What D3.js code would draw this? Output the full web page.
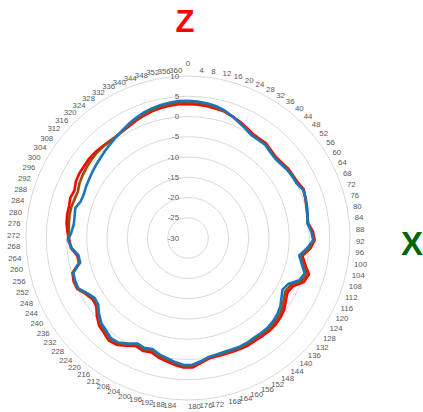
<!DOCTYPE html>
<html>
<head>
<meta charset="utf-8">
<script src="https://cdn.jsdelivr.net/npm/d3@7"></script>
<style>
  body { margin: 0; background: #fff; }
  svg { display: block; }
  text { font-family: "Liberation Sans", Arial, sans-serif; }
</style>
</head>
<body>
<svg id="chart"></svg>
<script>
// categories (degrees)
var angles = [0, 4, 8, 12, 16, 20, 24, 28, 32, 36, 40, 44, 48, 52, 56, 60, 64, 68, 72, 76, 80, 84, 88,
  92, 96, 100, 104, 108, 112, 116, 120, 124, 128, 132, 136, 140, 144, 148, 152, 156, 160, 164, 168, 172,
  176, 180, 184, 188, 192, 196, 200, 204, 208, 212, 216, 220, 224, 228, 232, 236, 240, 244, 248, 252,
  256, 260, 264, 268, 272, 276, 280, 284, 288, 292, 296, 300, 304, 308, 312, 316, 320, 324, 328, 332,
  336, 340, 344, 348, 352, 356, 360];

// radial ticks
var rTicks = [-30, -25, -20, -15, -10, -5, 0, 5, 10];

// series values
var redValues = [3.1, 3.0, 2.9, 2.7, 2.5, 2.0, 1.5, 0.9, 0.3, 0.2, 0.3, -0.2, -0.5, -0.3, 0.1, 0.2, 0.4, 1.0, 0.6, 0.3, 0.0, -0.1, 0.9,
  1.3, 0.3, -1.4, -0.3, 1.2, 0.6, -1.5, -2.0, -1.3, -0.4, 0.1, 0.4, 0.5, 0.4, 0.3, 0.4, 0.3, 0.2, 0.1, 0.1, 0.2,
  1.0, 2.0, 2.0, 1.5, 0.9, 0.4, -0.4, 0.0, -0.4, 0.6, 1.7, 2.0, 1.3, 0.8, -0.4, -1.8, -2.0, -1.2, 0.1, 0.2,
  -0.2, -2.4, -2.3, -1.0, -0.7, -0.2, 0.2, 0.4, 0.4, 0.7, 0.4, 1.0, 1.2, 1.2, 1.3, 1.2, 1.0, 0.8, 0.7, 0.9,
  1.2, 1.7, 2.1, 2.5, 2.8, 3.0, 3.1];

var brownValues = [3.5, 3.4, 3.2, 3.0, 2.6, 2.0, 1.4, 0.7, 0.1, 0.0, 0.1, -0.4, -0.7, -0.5, -0.1, 0.1, 0.2, 0.9, 0.6, 0.3, 0.0, -0.2, 0.7,
  1.1, -0.1, -1.8, -0.8, 0.7, 0.0, -2.1, -2.6, -1.9, -1.0, -0.4, -0.1, 0.1, 0.0, -0.1, 0.0, 0.0, -0.1, -0.2, -0.2, 0.0,
  0.8, 1.6, 1.7, 1.1, 0.5, 0.0, -0.8, -0.4, -0.8, 0.3, 1.3, 1.6, 0.9, 0.4, -0.8, -2.1, -2.3, -1.4, -0.1, 0.0,
  -0.3, -2.5, -2.4, -1.1, -0.4, -0.5, -0.4, -0.2, -0.2, -0.4, -0.5, 0.0, 0.3, 0.5, 0.7, 0.8, 0.8, 0.7, 0.7, 1.0,
  1.4, 1.9, 2.4, 2.8, 3.1, 3.3, 3.5];

var blueValues = [3.9, 3.8, 3.6, 3.3, 2.8, 2.0, 1.2, 0.5, -0.2, -0.2, -0.1, -0.6, -0.9, -0.7, -0.3, -0.1, 0.0, 0.8, 0.7, 0.4, 0.1, -0.3, 0.5,
  0.9, -0.5, -2.2, -1.2, 0.1, -0.6, -2.8, -3.4, -2.6, -1.6, -1.0, -0.6, -0.4, -0.4, -0.5, -0.3, -0.3, -0.4, -0.5, -0.4, -0.2,
  0.6, 1.3, 1.4, 0.8, 0.1, -0.4, -1.2, -0.8, -1.1, 0.0, 1.0, 1.2, 0.5, 0.0, -1.1, -2.4, -2.6, -1.6, -0.2, -0.2,
  -0.4, -2.7, -2.6, -1.2, -0.4, -1.2, -1.6, -1.5, -1.2, -2.0, -2.1, -1.8, -1.6, -1.3, -1.0, -0.7, -0.3, 0.1, 0.6, 1.1,
  1.7, 2.3, 2.8, 3.2, 3.5, 3.7, 3.9];

var seriesColors = ['#ff0000', '#9c4a0c', '#1b75bb'];

var width = 423;
var height = 412;
var cx = 188;
var cy = 238;
var outerRadius = 162;

var svg = d3.select('#chart')
  .attr('width', width)
  .attr('height', height);

var rScale = d3.scaleLinear()
  .domain([-30, 10])
  .range([0, outerRadius]);

// category index -> angle (radians, clockwise from top)
var aScale = d3.scaleLinear()
  .domain([0, angles.length])
  .range([0, 2 * Math.PI]);

var g = svg.append('g')
  .attr('transform', 'translate(' + cx + ',' + cy + ')');

// gridlines
g.selectAll('circle.grid')
  .data(rTicks.slice(1))
  .enter().append('circle')
    .attr('class', 'grid')
    .attr('r', function(d) { return rScale(d); })
    .attr('fill', 'none')
    .attr('stroke', '#d9d9d9')
    .attr('stroke-width', 1);

// value axis labels
g.selectAll('text.rlabel')
  .data(rTicks)
  .enter().append('text')
    .attr('class', 'rlabel')
    .attr('x', -9)
    .attr('y', function(d) { return -rScale(d); })
    .attr('dy', '0.35em')
    .attr('text-anchor', 'end')
    .attr('font-size', '7.8px')
    .attr('fill', '#595959')
    .text(function(d) { return d; });

// category labels
var labelR = outerRadius + 6;
g.selectAll('text.alabel')
  .data(angles)
  .enter().append('text')
    .attr('class', 'alabel')
    .attr('font-size', '7.8px')
    .attr('fill', '#595959')
    .attr('dy', '0.35em')
    .each(function(d, i) {
      var a = aScale(i);
      var deg = a * 180 / Math.PI;
      var la = deg > 170 ? a + Math.PI / 90 : a;
      var x = labelR * Math.sin(la);
      var y = -labelR * Math.cos(la);
      var anchor = deg < 170 ? 'start' : (deg < 179 ? 'start' : 'end');
      if (i == 0) {
        anchor = 'middle';
        y = y - 7;
      }
      d3.select(this)
        .attr('x', x)
        .attr('y', y)
        .attr('text-anchor', anchor)
        .text(d);
    });

// series lines
var line = d3.lineRadial()
  .angle(function(d, i) { return aScale(i); })
  .radius(function(d) { return rScale(d); })
  .curve(d3.curveLinearClosed);

var allSeries = [redValues, brownValues, blueValues];

g.selectAll('path.series')
  .data(allSeries)
  .enter().append('path')
    .attr('class', 'series')
    .attr('d', function(d) { return line(d); })
    .attr('fill', 'none')
    .attr('stroke', function(d, i) { return seriesColors[i]; })
    .attr('stroke-width', 2.6)
    .attr('stroke-linejoin', 'round');

// axis titles
svg.append('text')
  .attr('x', 185)
  .attr('y', 32)
  .attr('text-anchor', 'middle')
  .attr('font-size', '31px')
  .attr('font-weight', 'bold')
  .attr('fill', '#ff0000')
  .text('Z');

svg.append('text')
  .attr('x', 412)
  .attr('y', 255)
  .attr('text-anchor', 'middle')
  .attr('font-size', '33px')
  .attr('font-weight', 'bold')
  .attr('fill', '#006600')
  .text('X');
</script>
</body>
</html>
